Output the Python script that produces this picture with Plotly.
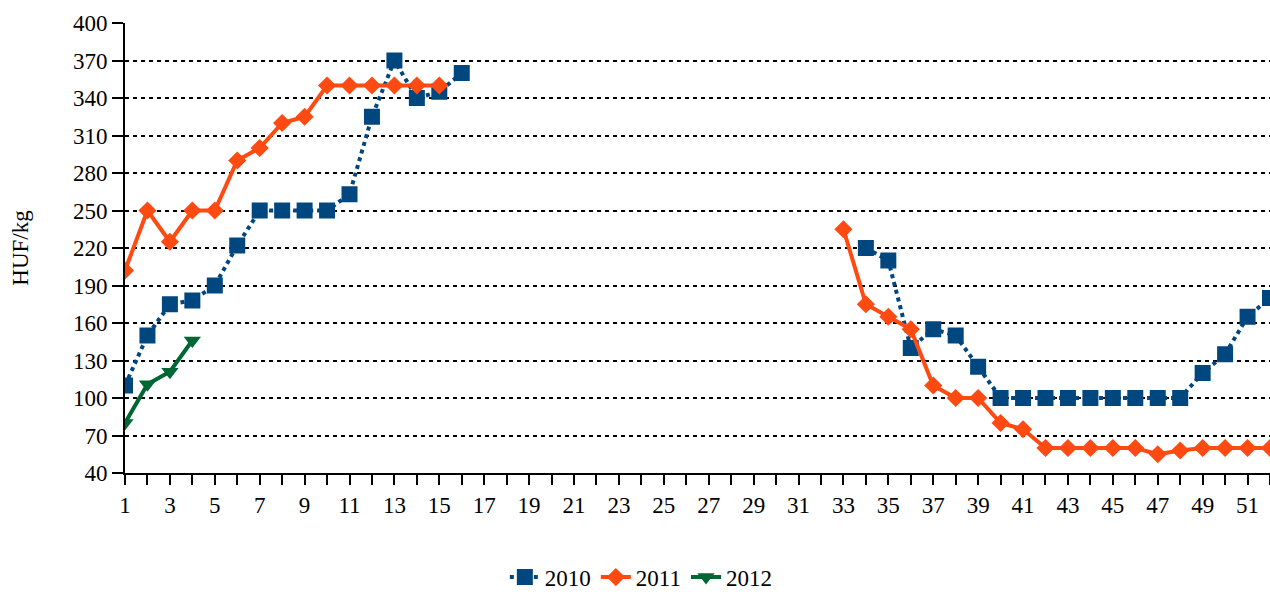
import plotly.graph_objects as go

weeks = list(range(1, 53))

s2010 = [110, 150, 175, 178, 190, 222, 250, 250, 250, 250, 263, 325, 370, 340, 345, 360,
         None, None, None, None, None, None, None, None, None, None, None, None, None, None,
         None, None, None,
         220, 210, 140, 155, 150, 125, 100, 100, 100, 100, 100, 100, 100, 100, 100, 120, 135, 165, 180]

s2011 = [202, 250, 225, 250, 250, 290, 300, 320, 325, 350, 350, 350, 350, 350, 350,
         None, None, None, None, None, None, None, None, None, None, None, None, None, None,
         None, None, None,
         235, 175, 165, 155, 110, 100, 100, 80, 75, 60, 60, 60, 60, 60, 55, 58, 60, 60, 60, 60]

s2012 = [80, 111, 121, 146]

y_ticks = list(range(40, 401, 30))
x_ticks = list(range(1, 52, 2))

fig = go.Figure()
fig.add_trace(go.Scatter(
    x=weeks, y=s2010, name="2010", mode="lines+markers",
    line=dict(color="#00467F", width=4, dash="dot"),
    marker=dict(symbol="square", size=16, color="#00467F"),
    connectgaps=False))
fig.add_trace(go.Scatter(
    x=weeks, y=s2011, name="2011", mode="lines+markers",
    line=dict(color="#FF4A12", width=4),
    marker=dict(symbol="diamond", size=14, color="#FF4A12"),
    connectgaps=False))
fig.add_trace(go.Scatter(
    x=weeks[:len(s2012)], y=s2012, name="2012", mode="lines+markers",
    line=dict(color="#006633", width=4),
    marker=dict(symbol="triangle-down", size=15, color="#006633")))

font = dict(family="Liberation Serif, Times New Roman, serif", size=23, color="black")

fig.update_layout(
    width=1270, height=595,
    margin=dict(l=125, r=0, t=23, b=122, autoexpand=False),
    paper_bgcolor="white", plot_bgcolor="white",
    font=font,
    showlegend=True,
    legend=dict(orientation="h", xref="container", x=0.505, xanchor="center",
                yref="container", y=0.03, yanchor="middle",
                font=font, itemwidth=30, tracegroupgap=0),
    xaxis=dict(range=[1, 52], tickvals=x_ticks, showgrid=False,
               showline=True, linecolor="black", linewidth=2,
               ticks="outside", ticklen=10, tickwidth=2, tickcolor="black",
               minor=dict(dtick=1, tick0=1, ticks="outside", ticklen=10, tickwidth=2, tickcolor="black", showgrid=False),
               zeroline=False),
    yaxis=dict(range=[40, 400], tickvals=y_ticks, showgrid=True, gridcolor="black",
               griddash="4px,4px", gridwidth=2,
               showline=True, linecolor="black", linewidth=2,
               ticks="outside", ticklen=11, tickwidth=2, tickcolor="black",
               zeroline=False,
               title=dict(text="HUF/kg", font=font, standoff=38)),
)

fig.write_html("out.html", config={"displayModeBar": False},
               post_script="document.body.style.margin='0';document.body.style.overflow='hidden';")
